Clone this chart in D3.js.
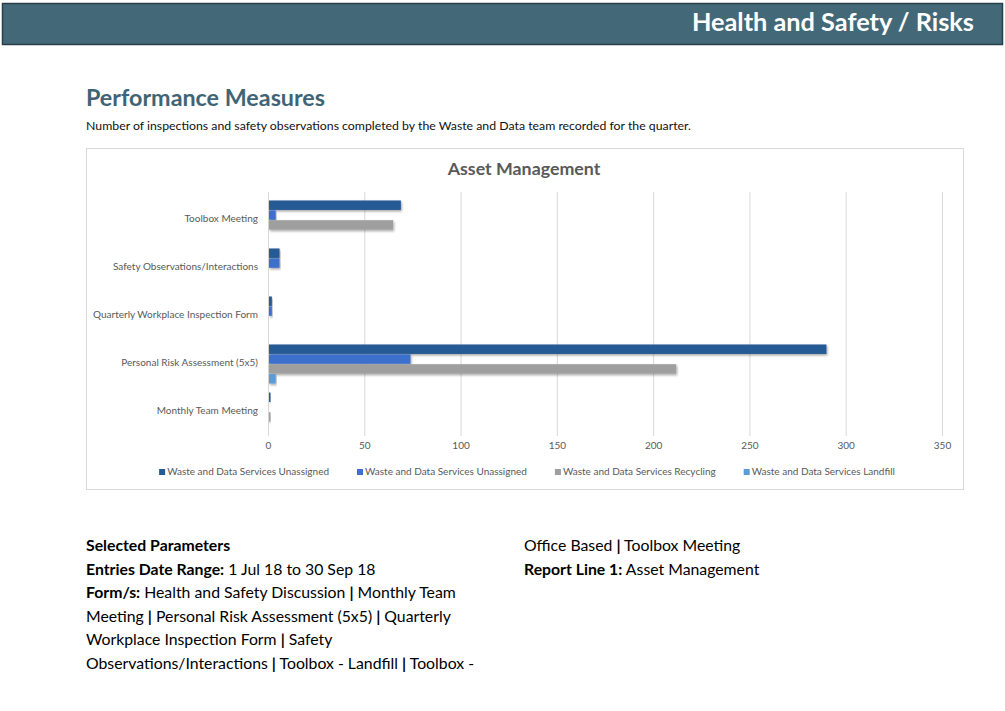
<!DOCTYPE html>
<html><head><meta charset="utf-8">
<script src="https://cdn.jsdelivr.net/npm/d3@7"></script>
<style>
html,body{margin:0;padding:0;background:#fff;}
svg text{font-family:Lato,"Open Sans",sans-serif;}
</style></head>
<body><svg id="c" width="1005" height="711"></svg>
<script>
const categories = ["Toolbox Meeting","Safety Observations/Interactions","Quarterly Workplace Inspection Form","Personal Risk Assessment (5x5)","Monthly Team Meeting"];
const seriesNames = ["Waste and Data Services Unassigned","Waste and Data Services Unassigned","Waste and Data Services Recycling","Waste and Data Services Landfill"];
const seriesColors = ["#275a94","#3d6fcc","#9f9f9f","#5a9bd8"];
const unassignedA = [69, 6, 2, 290, 1];
const unassignedB = [4, 6, 2, 74, 0];
const recycling  = [65, 0, 0, 212, 1];
const landfill   = [0, 0, 0, 4, 0];
const xTicks = [0,50,100,150,200,250,300,350];
const seriesValues = [unassignedA, unassignedB, recycling, landfill];

const svg = d3.select("#c");
const defs = svg.append("defs");
const f = defs.append("filter").attr("id","sh").attr("x","-5%").attr("y","-30%").attr("width","115%").attr("height","190%");
f.append("feDropShadow").attr("dx",1).attr("dy",1.5).attr("stdDeviation",0.8).attr("flood-color","#000").attr("flood-opacity",0.35);

// header bar
svg.append("rect").attr("x",2.5).attr("y",3.5).attr("width",1000).attr("height",41).attr("fill","#436878").attr("stroke","#2a3f4a").attr("stroke-width",1.5);
svg.append("text").attr("x",974).attr("y",31).attr("text-anchor","end").attr("fill","#fff").attr("font-weight","bold").attr("font-size",25.3).text("Health and Safety / Risks");

svg.append("text").attr("x",86).attr("y",106).attr("fill","#3f6475").attr("font-weight","bold").attr("font-size",23.3).text("Performance Measures");
svg.append("text").attr("x",86).attr("y",130).attr("fill","#111").attr("font-size",12.3).text("Number of inspections and safety observations completed by the Waste and Data team recorded for the quarter.");

// chart box
svg.append("rect").attr("x",86.5).attr("y",148.5).attr("width",877).attr("height",341).attr("fill","#fff").attr("stroke","#d9d9d9");
svg.append("text").attr("x",524).attr("y",175).attr("text-anchor","middle").attr("fill","#595959").attr("font-weight","bold").attr("font-size",17.8).text("Asset Management");

const x = d3.scaleLinear().domain([0,350]).range([268,942]);
const y = d3.scaleBand().domain(categories).range([196,436]).paddingInner(0.17).paddingOuter(0.085);
const ys = d3.scaleBand().domain(d3.range(4)).range([0,y.bandwidth()]).padding(0.04);

// grid
const grid = svg.append("g");
grid.selectAll("line").data(xTicks).join("line")
  .attr("x1",d=>x(d)+0.5).attr("x2",d=>x(d)+0.5).attr("y1",192).attr("y2",436)
  .attr("stroke","#d9d9d9").attr("stroke-width",1);

// x axis labels
const xa = svg.append("g").attr("transform","translate(0,436)")
  .call(d3.axisBottom(x).tickValues(xTicks).tickSize(0).tickPadding(6));
xa.select(".domain").remove();
xa.selectAll("text").attr("fill","#595959").attr("font-size",10).attr("font-family","Lato,sans-serif");

// y axis labels
const ya = svg.append("g").attr("transform","translate(258,0)")
  .call(d3.axisLeft(y).tickSize(0).tickPadding(0));
ya.select(".domain").remove();
ya.selectAll("text").attr("fill","#595959").attr("font-size",10).attr("font-family","Lato,sans-serif").attr("dy","0.2em");

// bars
const rows = [];
categories.forEach((c,ci)=>seriesValues.forEach((s,si)=>rows.push({c,si,v:s[ci]})));
svg.append("g").selectAll("rect").data(rows.filter(d=>d.v>0)).join("rect")
  .attr("x",x(0)+1).attr("y",d=>y(d.c)+ys(d.si))
  .attr("width",d=>Math.max(1.5,x(d.v)-x(0)-1)).attr("height",ys.bandwidth())
  .attr("fill",d=>seriesColors[d.si]).attr("filter","url(#sh)");

// legend
const lg = svg.append("g");
const items = lg.selectAll("g").data(seriesNames).join("g");
items.append("rect").attr("y",-6).attr("width",6).attr("height",6).attr("fill",(d,i)=>seriesColors[i]);
items.append("text").attr("x",8).attr("y",0).attr("fill","#595959").attr("font-size",10).text(d=>d);
let widths = [];
items.each(function(){widths.push(this.getBBox().width);});
const gap = 28;
const total = d3.sum(widths)+gap*(widths.length-1);
let cx = 527 - total/2;
items.attr("transform",(d,i)=>{const t=`translate(${cx},475)`; cx+=widths[i]+gap; return t;});

// bottom text
const fs = 15.8;
function line(xp, yp, parts){
  const t = svg.append("text").attr("x",xp).attr("y",yp).attr("font-size",fs).attr("fill","#000");
  parts.forEach(p=>t.append("tspan").attr("font-weight",p[1]?"bold":"normal").text(p[0]));
}
const L = [
  [["Selected Parameters",1]],
  [["Entries Date Range:",1],[" 1 Jul 18 to 30 Sep 18",0]],
  [["Form/s:",1],[" Health and Safety Discussion ",0],["|",1],[" Monthly Team",0]],
  [["Meeting ",0],["|",1],[" Personal Risk Assessment (5x5) ",0],["|",1],[" Quarterly",0]],
  [["Workplace Inspection Form ",0],["|",1],[" Safety",0]],
  [["Observations/Interactions ",0],["|",1],[" Toolbox - Landfill ",0],["|",1],[" Toolbox -",0]]
];
L.forEach((p,i)=>line(86, 551+i*23.6, p));
line(524, 551, [["Office Based ",0],["|",1],[" Toolbox Meeting",0]]);
line(524, 574.6, [["Report Line 1:",1],[" Asset Management",0]]);
</script></body></html>
